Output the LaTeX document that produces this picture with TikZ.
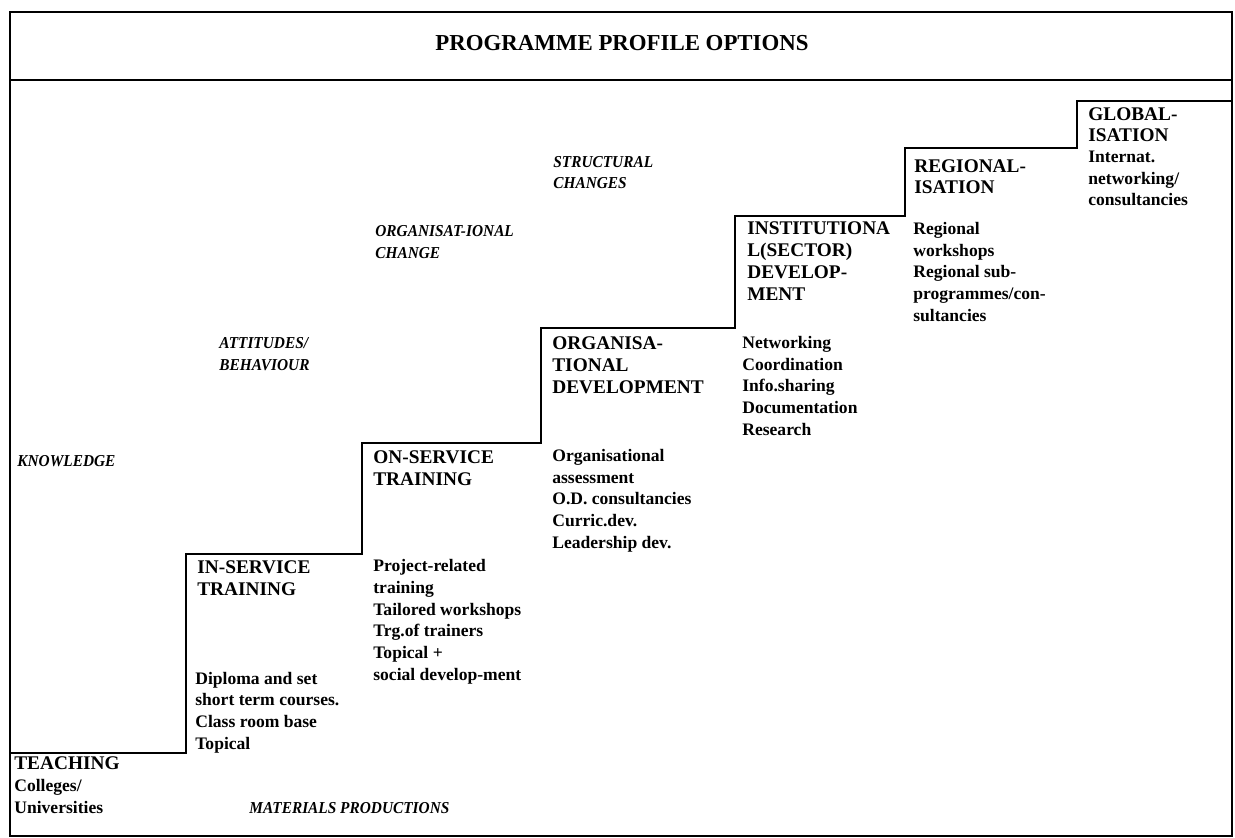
\documentclass[tikz,border=0pt]{standalone}
\usepackage{fontspec}
\setmainfont{Liberation Serif}
\newfontfamily\aspectfont[FakeStretch=0.92]{Liberation Serif}
\usetikzlibrary{positioning}

\begin{document}
\begin{tikzpicture}[x=0.02cm, y=-0.02cm,
    stagehead/.style={anchor=base west, inner sep=0pt, align=left, font=\fontsize{11}{12.5}\selectfont\bfseries},
    stagelist/.style={anchor=base west, inner sep=0pt, align=left, font=\fontsize{10}{12.3}\selectfont\bfseries},
    outcome/.style={anchor=base west, inner sep=0pt, align=left, font=\aspectfont\fontsize{9.5}{12.5}\selectfont\bfseries\itshape}]
      \useasboundingbox (0, 0) rectangle (1235, 838);

      \draw[line width=1.4pt] (10, 12) rectangle (1232, 836);
      \draw[line width=1.4pt] (10, 80) -- (1232, 80);
      \node[font=\fontsize{13}{15}\selectfont\bfseries] (title) at (622, 43) {PROGRAMME PROFILE OPTIONS};

      \draw[line width=1.6pt] (10, 753) -- (186, 753) -- (186, 554) -- (362, 554) -- (362, 443)
            -- (541, 443) -- (541, 328) -- (735, 328) -- (735, 216) -- (905, 216)
            -- (905, 148) -- (1077, 148) -- (1077, 101) -- (1232, 101);

      % nodes sit on the baseline of their last line
      \node[stagehead] (teach) at (14, 813) {TEACHING\\{\fontsize{10}{12.5}\selectfont Colleges/}\\{\fontsize{10}{12.5}\selectfont Universities}};
      \node[stagehead] (inserv) at (197, 595) {IN-SERVICE\\TRAINING};
      \node[stagelist] (inservlist) at (195, 749) {Diploma and set\\short term courses.\\Class room base\\Topical};
      \node[stagehead] (onserv) at (373, 485) {ON-SERVICE\\TRAINING};
      \node[stagelist] (onservlist) at (373, 680) {Project-related\\training\\Tailored workshops\\Trg.of trainers\\Topical +\\social develop-ment};
      \node[stagehead] (orgdev) at (552, 393) {ORGANISA-\\TIONAL\\DEVELOPMENT};
      \node[stagelist] (orgdevlist) at (552, 548) {Organisational\\assessment\\O.D. consultancies\\Curric.dev.\\Leadership dev.};
      \node[stagehead] (instdev) at (747, 300) {INSTITUTIONA\\L(SECTOR)\\DEVELOP-\\MENT};
      \node[stagelist] (instdevlist) at (742, 435) {Networking\\Coordination\\Info.sharing\\Documentation\\Research};
      \node[stagehead] (region) at (914, 194) {REGIONAL-\\ISATION};
      \node[stagelist] (regionlist) at (913, 321) {Regional\\workshops\\Regional sub-\\programmes/con-\\sultancies};
      \node[stagehead] (global) at (1088, 142) {GLOBAL-\\ISATION};
      \node[stagelist] (globallist) at (1088, 206) {Internat.\\networking/\\consultancies};

      \node[outcome] (know) at (17, 466) {KNOWLEDGE};
      \node[outcome] (attit) at (219, 370) {ATTITUDES/\\BEHAVIOUR};
      \node[outcome] (orgchange) at (375, 258) {ORGANISAT-IONAL\\CHANGE};
      \node[outcome] (struct) at (553, 189) {STRUCTURAL\\CHANGES};
      \node[outcome] (mater) at (249, 813) {MATERIALS PRODUCTIONS};

\end{tikzpicture}
\end{document}
